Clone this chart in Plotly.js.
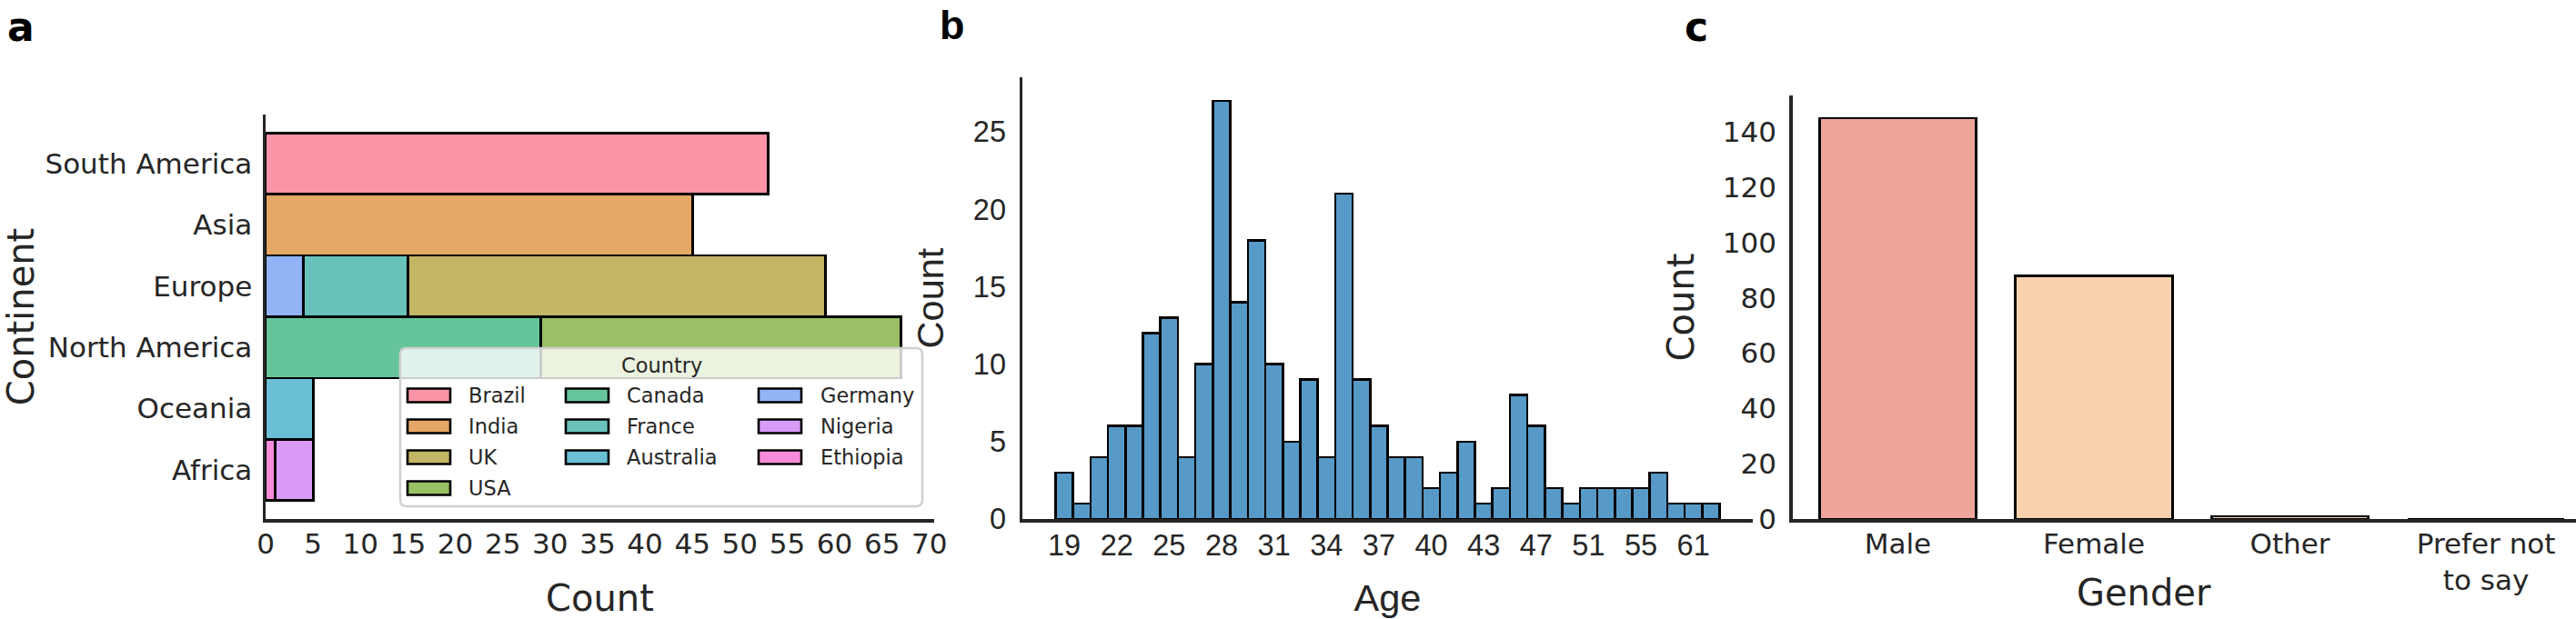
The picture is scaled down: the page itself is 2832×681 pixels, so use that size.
<!DOCTYPE html>
<html>
<head>
<meta charset="utf-8">
<script src="https://cdn.plot.ly/plotly-3.0.1.min.js"></script>
<style>html,body{margin:0;padding:0;background:#fff;}#chart{width:2832px;height:681px;}</style>
</head>
<body>
<div id="chart"></div>
<script>
// ---------------- DATA ----------------
// Panel a: respondents by country, grouped by continent
const continents = ['South America', 'Asia', 'Europe', 'North America', 'Oceania', 'Africa'];
const countries = ['Brazil', 'India', 'UK', 'USA', 'Canada', 'France', 'Australia', 'Germany', 'Nigeria', 'Ethiopia'];
const countryContinent = ['South America', 'Asia', 'Europe', 'North America', 'North America', 'Europe', 'Oceania', 'Europe', 'Africa', 'Africa'];
const countryCounts = [53, 45, 44, 38, 29, 11, 5, 4, 4, 1];

// Panel b: age distribution (one bar per observed age)
const ages = ['19','20','21','22','23','24','25','26','27','28','29','30','31','32','33','34','35','36','37','38',
              '39','40','41','42','43','44','45','47','48','49','51','52','53','55','56','58','61','63'];
const ageCounts = [3, 1, 4, 6, 6, 12, 13, 4, 10, 27, 14, 18, 10, 5, 9, 4, 21, 9, 6, 4,
                   4, 2, 3, 5, 1, 2, 8, 6, 2, 1, 2, 2, 2, 2, 3, 1, 1, 1];
const ageTickLabels = ['19','22','25','28','31','34','37','40','43','47','51','55','61'];

// Panel c: gender
const genders = ['Male', 'Female', 'Other', 'Prefer not to say'];
const genderCounts = [145, 88, 1, 0];
const genderTickLabels = ['Male', 'Female', 'Other', 'Prefer not<br>to say'];

// ---------------- STYLE ----------------
const W = 2832, H = 681;
const px = v => v / W;
const py = v => 1 - v / H;
const INK = '#262626';
const DJ = 'DejaVu Sans, sans-serif';
const AR = 'Liberation Sans, Arial, sans-serif';

// seaborn husl palette, drawn with alpha 0.75 on white
const husl = ['#f77189', '#dc8932', '#ae9d31', '#77ab31', '#33b07a', '#36ada4', '#38a9c5', '#6e9bf4', '#cc7af4', '#f565cc'];
function blend(hex, a) {
  const r = parseInt(hex.slice(1, 3), 16), g = parseInt(hex.slice(3, 5), 16), b = parseInt(hex.slice(5, 7), 16);
  const f = c => Math.round(c * a + 255 * (1 - a));
  return 'rgb(' + f(r) + ',' + f(g) + ',' + f(b) + ')';
}
const countryColors = husl.map(h => blend(h, 0.75));
const genderColors = ['rgb(240,165,155)', 'rgb(251,210,175)', 'rgb(252,228,196)', 'rgb(253,240,215)'];

// ---------------- TRACES ----------------
const traces = [];
// stacking: later hue levels sit at the base (left)
for (let i = countries.length - 1; i >= 0; i--) {
  traces.push({
    type: 'bar', orientation: 'h',
    x: [countryCounts[i]], y: [countryContinent[i]],
    name: countries[i], width: 1,
    marker: { color: countryColors[i], line: { color: '#000', width: 2.8 } },
    xaxis: 'x', yaxis: 'y', showlegend: false, hoverinfo: 'x+y+name'
  });
}
traces.push({
  type: 'bar', x: ages, y: ageCounts, width: 1,
  marker: { color: 'rgb(87,153,199)', line: { color: '#000', width: 2.6 } },
  xaxis: 'x2', yaxis: 'y2', showlegend: false
});
traces.push({
  type: 'bar', x: genders, y: genderCounts, width: 0.8,
  marker: { color: genderColors, line: { color: '#000', width: 2.8 } },
  xaxis: 'x3', yaxis: 'y3', showlegend: false
});

// ---------------- LEGEND (panel a, drawn by hand) ----------------
const shapes = [];
const annotations = [];
(function () {
  const x0 = 440, x1 = 1014, y0 = 383, y1 = 557, r = 7;
  const P = (x, y) => px(x) + ',' + py(y);
  const path = 'M ' + P(x0 + r, y0) + ' L ' + P(x1 - r, y0) + ' Q ' + P(x1, y0) + ' ' + P(x1, y0 + r) +
    ' L ' + P(x1, y1 - r) + ' Q ' + P(x1, y1) + ' ' + P(x1 - r, y1) +
    ' L ' + P(x0 + r, y1) + ' Q ' + P(x0, y1) + ' ' + P(x0, y1 - r) +
    ' L ' + P(x0, y0 + r) + ' Q ' + P(x0, y0) + ' ' + P(x0 + r, y0) + ' Z';
  shapes.push({ type: 'path', xref: 'paper', yref: 'paper', path: path, layer: 'above',
    fillcolor: 'rgba(255,255,255,0.8)', line: { color: 'rgb(208,208,208)', width: 2.5 } });
})();
annotations.push({ xref: 'paper', yref: 'paper', x: px(727), y: py(402), text: 'Country', showarrow: false,
  xanchor: 'center', yanchor: 'middle', font: { family: DJ, size: 22.5, color: INK } });
const swX = [448, 622, 834], txX = [513, 687, 900], rowY = [435, 469, 503, 537];
countries.forEach((c, i) => {
  const col = i < 4 ? 0 : (i < 7 ? 1 : 2);
  const row = i < 4 ? i : (i < 7 ? i - 4 : i - 7);
  const yc = rowY[row];
  shapes.push({ type: 'rect', xref: 'paper', yref: 'paper', layer: 'above',
    x0: px(swX[col]), x1: px(swX[col] + 47), y0: py(yc - 7.5), y1: py(yc + 7.5),
    fillcolor: countryColors[i], line: { color: '#000', width: 2.6 } });
  annotations.push({ xref: 'paper', yref: 'paper', x: px(txX[col]), y: py(yc), text: c, showarrow: false,
    xanchor: 'left', yanchor: 'middle', font: { family: DJ, size: 22.5, color: INK } });
});

// panel letters
annotations.push({ xref: 'paper', yref: 'paper', x: px(6), y: py(29), text: '<b>a</b>', showarrow: false,
  xanchor: 'left', yanchor: 'middle', font: { family: DJ, size: 44, color: '#000' } });
annotations.push({ xref: 'paper', yref: 'paper', x: px(1031), y: py(28), text: '<b>b</b>', showarrow: false,
  xanchor: 'left', yanchor: 'middle', font: { family: AR, size: 45, color: '#000' } });
annotations.push({ xref: 'paper', yref: 'paper', x: px(1850), y: py(29), text: '<b>c</b>', showarrow: false,
  xanchor: 'left', yanchor: 'middle', font: { family: DJ, size: 44, color: '#000' } });
// Gender axis title (offset left of the axis centre, as in the reference)
annotations.push({ xref: 'paper', yref: 'paper', x: px(2357), y: py(652), text: 'Gender', showarrow: false,
  xanchor: 'center', yanchor: 'middle', font: { family: DJ, size: 40, color: INK } });

// ---------------- LAYOUT ----------------
const axBase = {
  showline: true, linecolor: INK, linewidth: 3.5, showgrid: false, zeroline: false,
  ticks: '', fixedrange: true
};
const layout = {
  width: W, height: H,
  margin: { l: 0, r: 0, t: 0, b: 0, pad: 0 },
  paper_bgcolor: '#fff', plot_bgcolor: '#fff',
  barmode: 'stack', bargap: 0, showlegend: false,
  font: { family: DJ, color: INK },
  xaxis: Object.assign({}, axBase, {
    domain: [px(292), px(1027)], range: [0, 70.5], anchor: 'y',
    tickmode: 'linear', tick0: 0, dtick: 5, ticklabelstandoff: -3,
    tickfont: { family: DJ, size: 31, color: INK },
    title: { text: 'Count', font: { family: DJ, size: 40, color: INK }, standoff: 41 }
  }),
  yaxis: Object.assign({}, axBase, {
    domain: [py(571), py(126)], type: 'category', categoryorder: 'array', categoryarray: continents,
    range: [5.8, -0.8], anchor: 'x', ticklabelstandoff: 5,
    tickfont: { family: DJ, size: 31, color: INK },
    title: { text: 'Continent', font: { family: DJ, size: 40, color: INK }, standoff: 19 }
  }),
  xaxis2: Object.assign({}, axBase, {
    domain: [px(1124), px(1927)], type: 'category', categoryorder: 'array', categoryarray: ages,
    range: [-2.4, 39.4], anchor: 'y2', tickmode: 'array', tickvals: ageTickLabels, ticktext: ageTickLabels,
    ticklabelstandoff: -3,
    tickfont: { family: AR, size: 32.5, color: INK },
    title: { text: 'Age', font: { family: AR, size: 41.5, color: INK }, standoff: 41 }
  }),
  yaxis2: Object.assign({}, axBase, {
    domain: [py(571), py(85)], range: [0, 28.52], anchor: 'x2',
    tickmode: 'linear', tick0: 0, dtick: 5, ticklabelstandoff: 8,
    tickfont: { family: AR, size: 32.5, color: INK },
    title: { text: 'Count', font: { family: AR, size: 41.5, color: INK }, standoff: 20 }
  }),
  xaxis3: Object.assign({}, axBase, {
    domain: [px(1970.7), 1], type: 'category', categoryorder: 'array', categoryarray: genders,
    range: [-0.537, 3.459], anchor: 'y3', tickmode: 'array', tickvals: genders, ticktext: genderTickLabels,
    ticklabelstandoff: -3,
    tickfont: { family: DJ, size: 31, color: INK }
  }),
  yaxis3: Object.assign({}, axBase, {
    domain: [py(571), py(105)], range: [0, 153.2], anchor: 'x3',
    tickmode: 'linear', tick0: 0, dtick: 20, ticklabelstandoff: 8,
    tickfont: { family: DJ, size: 31, color: INK },
    title: { text: 'Count', font: { family: DJ, size: 40, color: INK }, standoff: 20 }
  }),
  shapes: shapes,
  annotations: annotations
};

Plotly.newPlot('chart', traces, layout, { displayModeBar: false, staticPlot: true });
</script>
</body>
</html>
